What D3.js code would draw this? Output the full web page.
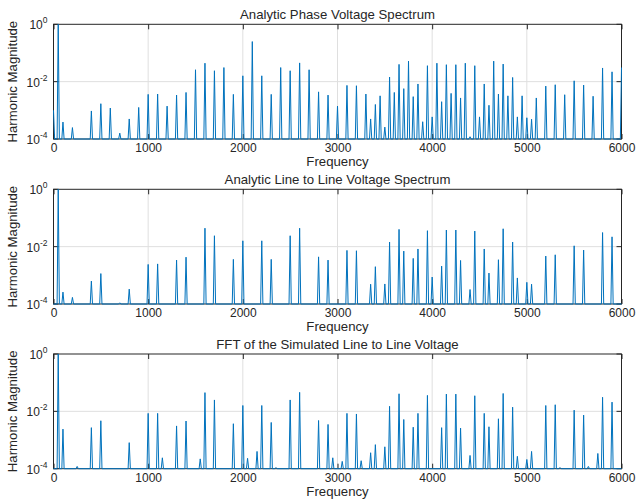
<!DOCTYPE html>
<html>
<head>
<meta charset="utf-8">
<script src="https://cdn.jsdelivr.net/npm/d3@7"></script>
<style>
  body { margin: 0; background: #fff; }
  text { font-family: "Liberation Sans", Arial, Helvetica, sans-serif; fill: #262626; }
</style>
</head>
<body>
<div id="vis"></div>
<script>
// harmonic spectra (frequency in Hz, magnitude in p.u.)
const phaseFreq = [0, 50, 100, 200, 400, 500, 600, 700, 800, 900, 1000, 1100, 1200, 1300, 1400, 1500, 1600, 1700, 1800, 1900,
  2000, 2100, 2200, 2300, 2400, 2500, 2600, 2700, 2800, 2900, 3000, 3100, 3200, 3300, 3350, 3400, 3450, 3500, 3550, 3600,
  3650, 3700, 3750, 3800, 3850, 3900, 3950, 4000, 4050, 4100, 4150, 4200, 4250, 4300, 4350, 4400, 4450, 4500, 4550, 4600,
  4650, 4700, 4750, 4800, 4850, 4900, 4950, 5000, 5050, 5100, 5200, 5300, 5400, 5500, 5600, 5700, 5800, 5900, 6000];
const phaseMag = [1.0e-3, 1, 3.9e-4, 2.5e-4, 9.5e-4, 1.7e-3, 1.2e-3, 1.6e-4, 5e-4, 1.26e-3, 3.6e-3, 3.7e-3, 1.4e-3, 3.4e-3, 4.2e-3, 0.026, 0.044, 0.024, 0.031, 3.6e-3,
  0.016, 0.25, 0.016, 3.6e-3, 0.031, 0.024, 0.045, 0.026, 4.4e-3, 3.4e-3, 1.4e-3, 7.4e-3, 7.2e-3, 3.7e-3, 5e-4, 1.6e-3, 3.2e-3, 2.6e-4, 0.0145, 4.2e-3,
  0.040, 5.7e-3, 0.052, 3e-3, 8.3e-3, 4e-4, 0.036, 5.9e-4, 0.044, 2e-3, 0.039, 3.9e-3, 0.039, 2.7e-3, 0.044, 1.2e-4, 0.036, 5.9e-4, 8.3e-3, 1.5e-3,
  0.052, 3.7e-3, 0.041, 3.2e-3, 0.014, 5.9e-4, 3.2e-3, 5.5e-4, 4.9e-4, 2.7e-3, 7e-3, 7.8e-3, 3.5e-3, 0.0107, 7.6e-3, 3.1e-3, 0.030, 0.022, 0.031];

const lineFreq = [50, 100, 200, 400, 500, 700, 800, 1000, 1100, 1300, 1400, 1600, 1700, 1900, 2000, 2200, 2300, 2500, 2600, 2800,
  2900, 3100, 3200, 3350, 3400, 3500, 3550, 3650, 3700, 3800, 3850, 3950, 4000, 4100, 4150, 4250, 4300, 4400, 4450, 4550,
  4600, 4700, 4750, 4850, 4900, 5000, 5050, 5200, 5300, 5500, 5600, 5800, 5900];
const lineMag = [1, 2.6e-4, 1.7e-4, 6.3e-4, 1.15e-3, 1.1e-4, 3.3e-4, 2.4e-3, 2.5e-3, 3.4e-3, 4.3e-3, 0.044, 0.024, 3.6e-3, 0.016, 0.016, 3.6e-3, 0.024, 0.044, 4.4e-3,
  3.4e-3, 7.4e-3, 7.2e-3, 4.9e-4, 2e-3, 5e-4, 0.0145, 0.040, 7e-3, 3.9e-3, 8.3e-3, 0.036, 8.7e-4, 2.1e-3, 0.038, 0.038, 3.3e-3, 3.2e-4, 0.035, 8.3e-3,
  1.2e-3, 3.5e-3, 0.042, 0.0145, 8.1e-4, 5.7e-4, 4.9e-4, 4.7e-3, 5.2e-3, 0.0107, 7.6e-3, 0.031, 0.022];

const fftFreq = [50, 100, 250, 400, 500, 800, 1000, 1100, 1150, 1300, 1400, 1550, 1600, 1700, 1900, 2000, 2050, 2150, 2200, 2300,
  2350, 2500, 2600, 2800, 2900, 2950, 3050, 3100, 3200, 3250, 3350, 3400, 3500, 3550, 3650, 3700, 3800, 3850, 3950, 4100,
  4150, 4250, 4300, 4400, 4450, 4550, 4600, 4700, 4750, 4850, 4900, 5000, 5050, 5200, 5300, 5350, 5500, 5600, 5650, 5750,
  5800, 5900];
const fftMag = [1, 2.4e-3, 1.2e-4, 2.7e-3, 4.7e-3, 8.1e-4, 8.5e-3, 8.5e-3, 2.4e-4, 3.1e-3, 4.6e-3, 2.2e-4, 0.045, 0.025, 3.7e-3, 0.016, 2.3e-4, 4e-4, 0.016, 4.1e-3,
  1.1e-4, 0.025, 0.046, 4.8e-3, 3.5e-3, 2.4e-4, 1.8e-4, 8.5e-3, 8.1e-3, 1.9e-4, 3.6e-4, 6.9e-4, 5.8e-4, 0.015, 0.041, 5.2e-3, 2.8e-3, 8.5e-3, 0.036, 2.7e-3,
  0.040, 0.040, 2.6e-3, 2.9e-4, 0.035, 8.5e-3, 2.9e-3, 5.5e-3, 0.042, 0.014, 2.7e-4, 2.1e-4, 4e-4, 0.016, 0.017, 1.1e-4, 0.011, 7.4e-3, 1.2e-4, 3.4e-4,
  0.031, 0.021];

const titles = ['Analytic Phase Voltage Spectrum', 'Analytic Line to Line Voltage Spectrum', 'FFT of the Simulated Line to Line Voltage'];
const xTicks = [0, 1000, 2000, 3000, 4000, 5000, 6000];
const yTicks = [1e-4, 1e-2, 1];
const yTickExp = ['-4', '-2', '0'];

const panels = [
  { title: titles[0], freq: phaseFreq, mag: phaseMag },
  { title: titles[1], freq: lineFreq, mag: lineMag },
  { title: titles[2], freq: fftFreq, mag: fftMag }
];

let W = 637, H = 502;
let left = 53.5, plotW = 568, plotH = 114.7;
let tops = [24.3, 189.3, 354];
let blue = '#0072BD', axisCol = '#262626', gridCol = '#dfdfdf';
let floorVal = 1e-4, halfW = 12, tickLen = 5;

let svg = d3.select('#vis')
  .append('svg')
  .attr('width', W)
  .attr('height', H)
  .style('background-color', '#fff');

let xScale = d3.scaleLinear().domain([0, 6000]).range([0, plotW]);
let yScale = d3.scaleLog().domain([1e-4, 1]).range([plotH, 0]);

// turn harmonic list into narrow spikes sitting on the bottom of the axes
function spikes(freq, mag) {
  let pts = [];
  if (freq[0] > 0) pts.push([0, floorVal]);
  for (let i = 0; i < freq.length; i++) {
    let f = freq[i];
    if (f > 0) pts.push([f - halfW, floorVal]);
    pts.push([f, mag[i]]);
    if (f < 6000) pts.push([f + halfW, floorVal]);
  }
  if (freq[freq.length - 1] < 6000) pts.push([6000, floorVal]);
  return pts;
}

let line = d3.line()
  .x(d => xScale(d[0]))
  .y(d => yScale(Math.max(d[1], floorVal)));

panels.forEach(function (p, i) {
  let g = svg.append('g').attr('transform', 'translate(' + left + ',' + tops[i] + ')');

  // grid
  g.append('g').selectAll('line.vg')
    .data(xTicks.slice(1, -1))
    .enter().append('line')
    .attr('x1', d => xScale(d)).attr('x2', d => xScale(d))
    .attr('y1', 0).attr('y2', plotH)
    .attr('stroke', gridCol).attr('stroke-width', 1);
  g.append('g').selectAll('line.hg')
    .data(yTicks.slice(1, -1))
    .enter().append('line')
    .attr('x1', 0).attr('x2', plotW)
    .attr('y1', d => yScale(d)).attr('y2', d => yScale(d))
    .attr('stroke', gridCol).attr('stroke-width', 1);

  // box
  g.append('rect')
    .attr('x', 0).attr('y', 0)
    .attr('width', plotW).attr('height', plotH)
    .attr('fill', 'none')
    .attr('stroke', axisCol).attr('stroke-width', 1);

  // x axis (ticks inward), bottom and top
  let xAxis = g.append('g')
    .attr('transform', 'translate(0,' + plotH + ')')
    .call(d3.axisBottom(xScale).tickValues(xTicks).tickSizeInner(-tickLen).tickSizeOuter(0).tickPadding(4.5).tickFormat(d3.format('d')));
  xAxis.select('.domain').remove();
  xAxis.selectAll('line').attr('stroke', axisCol);
  xAxis.selectAll('text').style('font-size', '12px').attr('fill', axisCol)
    .style('font-family', '"Liberation Sans", Arial, Helvetica, sans-serif');

  let xTop = g.append('g')
    .call(d3.axisTop(xScale).tickValues(xTicks).tickSizeInner(-tickLen).tickSizeOuter(0).tickFormat(''));
  xTop.select('.domain').remove();
  xTop.selectAll('line').attr('stroke', axisCol);

  // y ticks inward, left and right
  let yAx = g.append('g');
  yAx.selectAll('line.l')
    .data(yTicks).enter().append('line')
    .attr('x1', 0).attr('x2', tickLen)
    .attr('y1', d => yScale(d)).attr('y2', d => yScale(d))
    .attr('stroke', axisCol);
  yAx.selectAll('line.r')
    .data(yTicks).enter().append('line')
    .attr('x1', plotW - tickLen).attr('x2', plotW)
    .attr('y1', d => yScale(d)).attr('y2', d => yScale(d))
    .attr('stroke', axisCol);

  let yLab = yAx.selectAll('text')
    .data(yTicks).enter().append('text')
    .attr('x', -6)
    .attr('y', d => yScale(d) + 5)
    .attr('text-anchor', 'end')
    .style('font-size', '12px');
  yLab.append('tspan').text('10');
  yLab.append('tspan')
    .attr('dy', -6)
    .style('font-size', '8.5px')
    .text((d, j) => yTickExp[j]);

  // spectrum line
  g.append('path')
    .datum(spikes(p.freq, p.mag))
    .attr('d', line)
    .attr('fill', 'none')
    .attr('stroke', blue)
    .attr('stroke-width', 1)
    .attr('stroke-linejoin', 'miter');

  // title
  g.append('text')
    .attr('x', plotW / 2)
    .attr('y', -5.5)
    .attr('text-anchor', 'middle')
    .style('font-size', '13.2px')
    .text(p.title);

  // x label
  g.append('text')
    .attr('x', plotW / 2)
    .attr('y', plotH + 27.5)
    .attr('text-anchor', 'middle')
    .style('font-size', '13.2px')
    .text('Frequency');

  // y label
  g.append('text')
    .attr('text-anchor', 'middle')
    .attr('transform', 'translate(' + (17 - left) + ',' + (plotH / 2) + ')rotate(-90)')
    .style('font-size', '13.2px')
    .text('Harmonic Magnitude');
});
</script>
</body>
</html>
